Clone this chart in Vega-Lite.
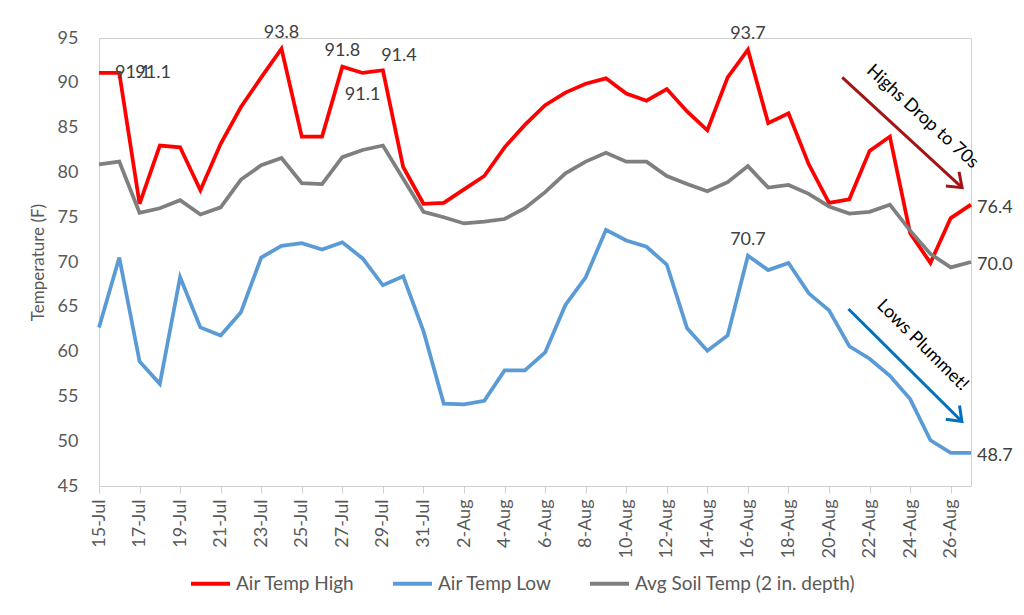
{
  "$schema": "https://vega.github.io/schema/vega-lite/v6.json",
  "width": 872,
  "height": 448,
  "autosize": {"type": "none"},
  "padding": {"left": 99, "top": 38, "right": 53, "bottom": 129},
  "background": "white",
  "config": {"font": "Lato", "view": {"stroke": "#D0D0D0", "strokeWidth": 1}},
  "datasets": {
    "highArrow": [{"date": "2020-08-20T15:36:00Z", "temp": 90.6, "date2": "2020-08-26T13:26:00Z", "temp2": 78.3}],
    "lowArrow": [{"date": "2020-08-20T23:02:00Z", "temp": 64.75, "date2": "2020-08-26T13:12:00Z", "temp2": 52.2}],
    "notes": [
      {"date": "2020-08-24T14:24:00Z", "temp": 86.2, "text": "Highs Drop to 70s", "arrow": "high"},
      {"date": "2020-08-24T14:24:00Z", "temp": 60.7, "text": "Lows Plummet!", "arrow": "low"}
    ]
  },
  "data": {
    "values": [
      {"date": "2020-07-15", "high": 91.1, "low": 62.7, "soil": 80.9},
      {"date": "2020-07-16", "high": 91.1, "low": 70.5, "soil": 81.2},
      {"date": "2020-07-17", "high": 76.5, "low": 58.9, "soil": 75.5},
      {"date": "2020-07-18", "high": 83.0, "low": 56.4, "soil": 76.0},
      {"date": "2020-07-19", "high": 82.8, "low": 68.3, "soil": 76.9},
      {"date": "2020-07-20", "high": 78.0, "low": 62.7, "soil": 75.3},
      {"date": "2020-07-21", "high": 83.2, "low": 61.8, "soil": 76.1},
      {"date": "2020-07-22", "high": 87.3, "low": 64.4, "soil": 79.2},
      {"date": "2020-07-23", "high": 90.6, "low": 70.5, "soil": 80.8},
      {"date": "2020-07-24", "high": 93.8, "low": 71.8, "soil": 81.6},
      {"date": "2020-07-25", "high": 84.0, "low": 72.1, "soil": 78.8},
      {"date": "2020-07-26", "high": 84.0, "low": 71.4, "soil": 78.7},
      {"date": "2020-07-27", "high": 91.8, "low": 72.2, "soil": 81.7},
      {"date": "2020-07-28", "high": 91.1, "low": 70.4, "soil": 82.5},
      {"date": "2020-07-29", "high": 91.4, "low": 67.4, "soil": 83.0},
      {"date": "2020-07-30", "high": 80.6, "low": 68.4, "soil": 79.3},
      {"date": "2020-07-31", "high": 76.5, "low": 62.3, "soil": 75.6},
      {"date": "2020-08-01", "high": 76.6, "low": 54.2, "soil": 75.0},
      {"date": "2020-08-02", "high": 78.1, "low": 54.1, "soil": 74.3},
      {"date": "2020-08-03", "high": 79.6, "low": 54.5, "soil": 74.5},
      {"date": "2020-08-04", "high": 82.8, "low": 57.9, "soil": 74.8},
      {"date": "2020-08-05", "high": 85.3, "low": 57.9, "soil": 76.0},
      {"date": "2020-08-06", "high": 87.5, "low": 59.9, "soil": 77.8},
      {"date": "2020-08-07", "high": 88.9, "low": 65.2, "soil": 79.9},
      {"date": "2020-08-08", "high": 89.9, "low": 68.3, "soil": 81.2},
      {"date": "2020-08-09", "high": 90.5, "low": 73.6, "soil": 82.2},
      {"date": "2020-08-10", "high": 88.8, "low": 72.4, "soil": 81.2},
      {"date": "2020-08-11", "high": 88.0, "low": 71.7, "soil": 81.2},
      {"date": "2020-08-12", "high": 89.3, "low": 69.7, "soil": 79.6},
      {"date": "2020-08-13", "high": 86.8, "low": 62.6, "soil": 78.7},
      {"date": "2020-08-14", "high": 84.7, "low": 60.1, "soil": 77.9},
      {"date": "2020-08-15", "high": 90.6, "low": 61.8, "soil": 78.9},
      {"date": "2020-08-16", "high": 93.7, "low": 70.7, "soil": 80.7},
      {"date": "2020-08-17", "high": 85.5, "low": 69.1, "soil": 78.3},
      {"date": "2020-08-18", "high": 86.6, "low": 69.9, "soil": 78.6},
      {"date": "2020-08-19", "high": 80.9, "low": 66.5, "soil": 77.6},
      {"date": "2020-08-20", "high": 76.6, "low": 64.6, "soil": 76.2},
      {"date": "2020-08-21", "high": 77.0, "low": 60.6, "soil": 75.4},
      {"date": "2020-08-22", "high": 82.4, "low": 59.2, "soil": 75.6},
      {"date": "2020-08-23", "high": 84.0, "low": 57.3, "soil": 76.4},
      {"date": "2020-08-24", "high": 73.2, "low": 54.7, "soil": 73.5},
      {"date": "2020-08-25", "high": 69.9, "low": 50.1, "soil": 70.9},
      {"date": "2020-08-26", "high": 74.9, "low": 48.7, "soil": 69.4},
      {"date": "2020-08-27", "high": 76.4, "low": 48.7, "soil": 70.0}
    ]
  },
  "transform": [
    {"fold": ["high", "low", "soil"], "as": ["series", "temp"]},
    {"calculate": "100 * utcmonth(datum.date) + utcdate(datum.date)", "as": "md"}
  ],
  "encoding": {
    "x": {
      "field": "date",
      "type": "temporal",
      "scale": {
        "type": "utc",
        "domain": [
          {"year": 2020, "month": 7, "date": 15, "utc": true},
          {"year": 2020, "month": 8, "date": 27, "utc": true}
        ]
      },
      "axis": {
        "title": null,
        "format": "%-d-%b",
        "values": [
          {"year": 2020, "month": 7, "date": 15, "utc": true},
          {"year": 2020, "month": 7, "date": 17, "utc": true},
          {"year": 2020, "month": 7, "date": 19, "utc": true},
          {"year": 2020, "month": 7, "date": 21, "utc": true},
          {"year": 2020, "month": 7, "date": 23, "utc": true},
          {"year": 2020, "month": 7, "date": 25, "utc": true},
          {"year": 2020, "month": 7, "date": 27, "utc": true},
          {"year": 2020, "month": 7, "date": 29, "utc": true},
          {"year": 2020, "month": 7, "date": 31, "utc": true},
          {"year": 2020, "month": 8, "date": 2, "utc": true},
          {"year": 2020, "month": 8, "date": 4, "utc": true},
          {"year": 2020, "month": 8, "date": 6, "utc": true},
          {"year": 2020, "month": 8, "date": 8, "utc": true},
          {"year": 2020, "month": 8, "date": 10, "utc": true},
          {"year": 2020, "month": 8, "date": 12, "utc": true},
          {"year": 2020, "month": 8, "date": 14, "utc": true},
          {"year": 2020, "month": 8, "date": 16, "utc": true},
          {"year": 2020, "month": 8, "date": 18, "utc": true},
          {"year": 2020, "month": 8, "date": 20, "utc": true},
          {"year": 2020, "month": 8, "date": 22, "utc": true},
          {"year": 2020, "month": 8, "date": 24, "utc": true},
          {"year": 2020, "month": 8, "date": 26, "utc": true}
        ],
        "labelAngle": -90,
        "labelFontSize": 18,
        "labelColor": "#595959",
        "labelPadding": 6,
        "labelFlush": false,
        "labelOverlap": false,
        "labelBound": false,
        "tickColor": "#D0D0D0",
        "tickSize": 7,
        "domain": false,
        "grid": false
      }
    },
    "y": {
      "field": "temp",
      "type": "quantitative",
      "scale": {"domain": [45, 95], "nice": false, "zero": false},
      "axis": {
        "values": [45, 50, 55, 60, 65, 70, 75, 80, 85, 90, 95],
        "ticks": false,
        "domain": false,
        "grid": false,
        "labelFontSize": 18,
        "labelColor": "#595959",
        "labelPadding": 21,
        "title": "Temperature (F)",
        "titleFontSize": 17,
        "titleFontWeight": "normal",
        "titleColor": "#595959",
        "titlePadding": 10
      }
    }
  },
  "layer": [
    {
      "mark": {"type": "line", "strokeWidth": 3.75},
      "encoding": {
        "color": {
          "field": "series",
          "type": "nominal",
          "scale": {"domain": ["high", "low", "soil"], "range": ["#FF0000", "#5B9BD5", "#7F7F7F"]},
          "legend": {
            "title": null,
            "orient": "none",
            "direction": "horizontal",
            "legendX": 90,
            "legendY": 524,
            "symbolType": "stroke",
            "symbolSize": 1521,
            "symbolStrokeWidth": 4,
            "labelFontSize": 19,
            "labelColor": "#595959",
            "labelOffset": 4,
            "labelLimit": 400,
            "columnPadding": 30,
            "labelExpr": "datum.label == 'high' ? 'Air Temp High' : datum.label == 'low' ? 'Air Temp Low' : 'Avg Soil Temp (2 in. depth)'"
          }
        }
      }
    },
    {
      "transform": [{"filter": "datum.series == 'high' && (datum.md == 615 || datum.md == 616)"}],
      "mark": {"type": "text", "align": "left", "baseline": "middle", "dx": 16, "fontSize": 18, "color": "#404040"},
      "encoding": {"text": {"field": "temp", "type": "quantitative", "format": ".1f"}}
    },
    {
      "transform": [{"filter": "(datum.series == 'high' && (datum.md == 624 || datum.md == 627 || datum.md == 716)) || (datum.series == 'low' && datum.md == 716)"}],
      "mark": {"type": "text", "align": "center", "baseline": "middle", "dy": -16, "fontSize": 18, "color": "#404040"},
      "encoding": {"text": {"field": "temp", "type": "quantitative", "format": ".1f"}}
    },
    {
      "transform": [{"filter": "datum.series == 'high' && datum.md == 628"}],
      "mark": {"type": "text", "align": "center", "baseline": "middle", "dy": 22, "fontSize": 18, "color": "#404040"},
      "encoding": {"text": {"field": "temp", "type": "quantitative", "format": ".1f"}}
    },
    {
      "transform": [{"filter": "datum.series == 'high' && datum.md == 629"}],
      "mark": {"type": "text", "align": "center", "baseline": "middle", "dx": 16, "dy": -14, "fontSize": 18, "color": "#404040"},
      "encoding": {"text": {"field": "temp", "type": "quantitative", "format": ".1f"}}
    },
    {
      "transform": [{"filter": "datum.md == 727"}],
      "mark": {"type": "text", "align": "left", "baseline": "middle", "dx": 6, "dy": 3, "fontSize": 18, "color": "#404040"},
      "encoding": {"text": {"field": "temp", "type": "quantitative", "format": ".1f"}}
    },
    {
      "data": {"name": "highArrow"},
      "layer": [
        {
          "mark": {"type": "rule", "color": "#A31515", "strokeWidth": 3},
          "encoding": {"x2": {"field": "date2"}, "y2": {"field": "temp2"}}
        },
        {
          "mark": {"type": "point", "shape": "M-1,-0.75L0,0L-1,0.75", "filled": false, "color": "#A31515", "strokeWidth": 3, "size": 676, "angle": 42.3, "opacity": 1},
          "encoding": {"x": {"field": "date2", "type": "temporal"}, "y": {"field": "temp2", "type": "quantitative"}}
        }
      ]
    },
    {
      "data": {"name": "lowArrow"},
      "layer": [
        {
          "mark": {"type": "rule", "color": "#0070C0", "strokeWidth": 3},
          "encoding": {"x2": {"field": "date2"}, "y2": {"field": "temp2"}}
        },
        {
          "mark": {"type": "point", "shape": "M-1,-0.75L0,0L-1,0.75", "filled": false, "color": "#0070C0", "strokeWidth": 3, "size": 676, "angle": 44.8, "opacity": 1},
          "encoding": {"x": {"field": "date2", "type": "temporal"}, "y": {"field": "temp2", "type": "quantitative"}}
        }
      ]
    },
    {
      "data": {"name": "notes"},
      "transform": [{"filter": "datum.arrow == 'high'"}],
      "mark": {"type": "text", "angle": 42.3, "align": "center", "baseline": "middle", "fontSize": 18, "color": "#000000"},
      "encoding": {"text": {"field": "text"}}
    },
    {
      "data": {"name": "notes"},
      "transform": [{"filter": "datum.arrow == 'low'"}],
      "mark": {"type": "text", "angle": 44.8, "align": "center", "baseline": "middle", "fontSize": 18, "color": "#000000"},
      "encoding": {"text": {"field": "text"}}
    }
  ]
}
